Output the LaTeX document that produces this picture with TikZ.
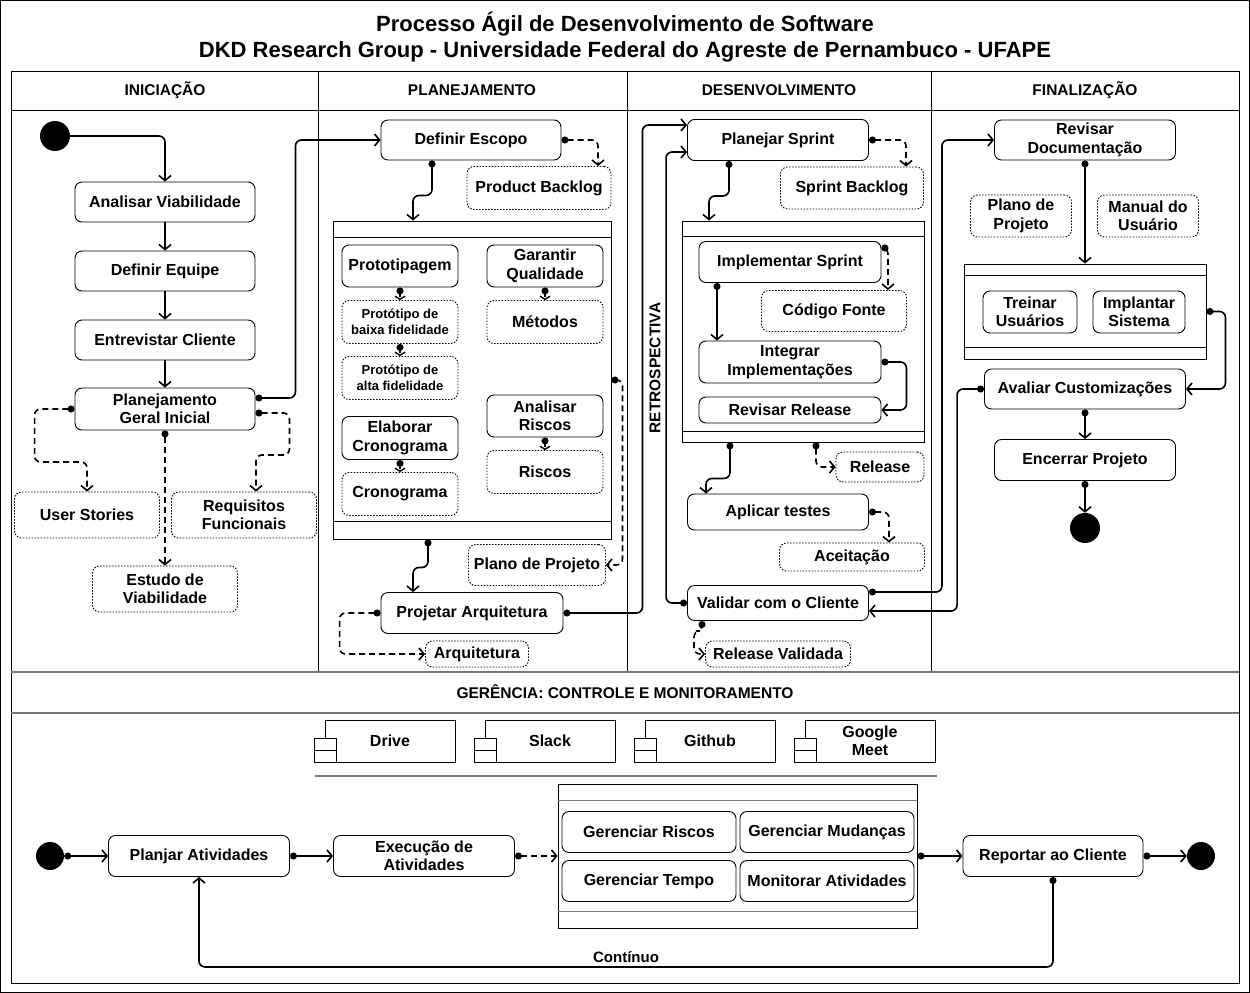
\documentclass[tikz,border=0pt]{standalone}
\usepackage{fontspec}
\setmainfont{Liberation Sans}
\usepackage{tikz}
\usetikzlibrary{arrows.meta,calc}
\definecolor{linhacinza}{RGB}{120,120,120}
\tikzset{
  act/.style={rectangle,rounded corners=7pt,draw,line width=0.9pt,fill=white,
              minimum width=180pt,minimum height=40pt,inner sep=2pt,align=center,
              font=\bfseries\fontsize{16}{18.5}\selectfont},
  artef/.style={act,dash pattern=on 1.5pt off 1.5pt},
  peq/.style={font=\bfseries\fontsize{13}{16}\selectfont},
  regiao/.style={rectangle,draw,line width=0.9pt,fill=white,inner sep=0pt},
  ferram/.style={rectangle,draw,line width=0.9pt,fill=white,minimum width=130pt,
              minimum height=42pt,inner sep=2pt,align=center,font=\bfseries\fontsize{16}{18.5}\selectfont},
  inicial/.style={circle,fill=black,minimum size=30pt,inner sep=0pt},
  cab/.style={font=\bfseries\fontsize{15.5}{18}\selectfont},
  fluxo/.style={{Circle[length=7pt]}-{Straight Barb[length=5pt,width=12pt]},line width=1.6pt,rounded corners=6pt},
  fluxoc/.style={fluxo,-{Straight Barb[length=5pt,width=12pt]}},
  fluxod/.style={fluxo,dash pattern=on 6pt off 4pt},
  curto/.style={{Circle[length=7pt]}-{Straight Barb[length=3pt,width=10pt]},line width=1.4pt,dash pattern=on 3pt off 2pt},
  divisa/.style={line width=0.9pt},
  cinza/.style={line width=1.6pt,draw=linhacinza},
}
\begin{document}
\begin{tikzpicture}[x=1pt,y=-1pt]
  \useasboundingbox (0,0) rectangle (1250,993);
  \draw[line width=1pt] (0.5,0.5) rectangle (1249.5,992.5);
  \node[font=\bfseries\fontsize{22}{26}\selectfont,align=center] (titulo) at (625,37)
    {Processo Ágil de Desenvolvimento de Software\\DKD Research Group - Universidade Federal do Agreste de Pernambuco - UFAPE};

  % raias
  \draw[divisa] (11,71) rectangle (1239,983);
  \draw[divisa] (11,110) -- (1239,110);
  \foreach \x in {318,627,931} \draw[divisa] (\x,71) -- (\x,672);
  \draw[cinza] (11,672) -- (1239,672);
  \draw[cinza] (11,713) -- (1239,713);
  \node[cab] (fase1) at (165,90) {INICIAÇÃO};
  \node[cab] (fase2) at (472,90) {PLANEJAMENTO};
  \node[cab] (fase3) at (779,90) {DESENVOLVIMENTO};
  \node[cab] (fase4) at (1085,90) {FINALIZAÇÃO};
  \node[cab] (gerencia) at (625,692) {GERÊNCIA: CONTROLE E MONITORAMENTO};

  % iniciacao
  \node[inicial] (inicio) at (55,136) {};
  \node[act] (analisar) at (165,202) {Analisar Viabilidade};
  \node[act] (equipe) at (165,271) {Definir Equipe};
  \node[act] (entrevistar) at (165,340) {Entrevistar Cliente};
  \node[act,minimum height=42pt] (pgi) at (165,409) {Planejamento\\Geral Inicial};
  \node[artef,minimum width=145pt,minimum height=46pt] (stories) at (87,515) {User Stories};
  \node[artef,minimum width=145pt,minimum height=46pt] (requisitos) at (244,515) {Requisitos\\Funcionais};
  \node[artef,minimum width=145pt,minimum height=46pt] (estudo) at (165,589) {Estudo de\\Viabilidade};

  % planejamento
  \node[act] (escopo) at (471,140) {Definir Escopo};
  \node[artef,minimum width=144pt,minimum height=43pt] (backlog) at (539,188) {Product Backlog};
  \node[regiao,minimum width=278pt,minimum height=318pt] (regPlan) at (472,380) {};
  \draw[divisa] ([yshift=-17pt]regPlan.north west) -- ([yshift=-17pt]regPlan.north east);
  \draw[divisa] ([yshift=18pt]regPlan.south west) -- ([yshift=18pt]regPlan.south east);
  \node[act,minimum width=116pt,minimum height=42pt] (proto) at (400,266) {Prototipagem};
  \node[artef,peq,minimum width=116pt,minimum height=43pt] (baixa) at (400,322) {Protótipo de\\baixa fidelidade};
  \node[artef,peq,minimum width=116pt,minimum height=43pt] (alta) at (400,378) {Protótipo de\\alta fidelidade};
  \node[act,minimum width=116pt,minimum height=42pt] (qualidade) at (545,266) {Garantir\\Qualidade};
  \node[artef,minimum width=116pt,minimum height=43pt] (metodos) at (545,322) {Métodos};
  \node[act,minimum width=116pt,minimum height=43pt] (elaborar) at (400,438) {Elaborar\\Cronograma};
  \node[artef,minimum width=116pt,minimum height=43pt] (cronograma) at (400,494) {Cronograma};
  \node[act,minimum width=116pt,minimum height=42pt] (analRiscos) at (545,416) {Analisar\\Riscos};
  \node[artef,minimum width=116pt,minimum height=43pt] (riscos) at (545,472) {Riscos};
  \node[artef,minimum width=137pt,minimum height=41pt] (planoproj) at (537,565) {Plano de Projeto};
  \node[act,minimum width=182pt,minimum height=41pt] (arquitet) at (472,613) {Projetar Arquitetura};
  \node[artef,minimum width=103pt,minimum height=26pt] (arquitetura) at (477,654) {Arquitetura};

  % desenvolvimento
  \node[act,minimum width=181pt,minimum height=41pt] (sprint) at (778,140) {Planejar Sprint};
  \node[artef,minimum width=143pt,minimum height=42pt] (sbacklog) at (852,188) {Sprint Backlog};
  \node[regiao,minimum width=242pt,minimum height=221pt] (regDev) at (803,331.5) {};
  \draw[divisa] ([yshift=-16pt]regDev.north west) -- ([yshift=-16pt]regDev.north east);
  \draw[divisa] ([yshift=11pt]regDev.south west) -- ([yshift=11pt]regDev.south east);
  \node[act,minimum width=182pt,minimum height=41pt] (implementar) at (790,262) {Implementar Sprint};
  \node[artef,minimum width=145pt,minimum height=41pt] (codigo) at (834,311) {Código Fonte};
  \node[act,minimum width=182pt,minimum height=42pt] (integrar) at (790,362) {Integrar\\Implementações};
  \node[act,minimum width=182pt,minimum height=26pt] (revisar) at (790,410) {Revisar Release};
  \node[artef,minimum width=88pt,minimum height=30pt] (release) at (880,467) {Release};
  \node[act,minimum width=181pt,minimum height=36pt] (testes) at (778,512) {Aplicar testes};
  \node[artef,minimum width=145pt,minimum height=28pt] (aceitacao) at (852,557) {Aceitação};
  \node[act,minimum width=181pt,minimum height=35pt] (validar) at (778,603) {Validar com o Cliente};
  \node[artef,minimum width=145pt,minimum height=26pt] (relval) at (778,654) {Release Validada};
  \node[cab,rotate=90] (retro) at (655,368) {RETROSPECTIVA};

  % finalizacao
  \node[act,minimum width=181pt,minimum height=40pt] (revdoc) at (1085,140) {Revisar\\Documentação};
  \node[artef,minimum width=101pt,minimum height=42pt] (plano2) at (1021,216) {Plano de\\Projeto};
  \node[artef,minimum width=101pt,minimum height=42pt] (manual) at (1148,216) {Manual do\\Usuário};
  \node[regiao,minimum width=242pt,minimum height=95pt] (regFin) at (1085,311.5) {};
  \draw[divisa] ([yshift=-12pt]regFin.north west) -- ([yshift=-12pt]regFin.north east);
  \draw[divisa] ([yshift=12pt]regFin.south west) -- ([yshift=12pt]regFin.south east);
  \node[act,minimum width=94pt,minimum height=42pt] (treinar) at (1030,312) {Treinar\\Usuários};
  \node[act,minimum width=92pt,minimum height=42pt] (implantar) at (1139,312) {Implantar\\Sistema};
  \node[act,minimum width=201pt,minimum height=40pt] (avaliar) at (1085,389) {Avaliar Customizações};
  \node[act,minimum width=181pt,minimum height=41pt] (encerrar) at (1085,460) {Encerrar Projeto};
  \node[inicial] (fim) at (1085,528) {};

  % gerencia
  \foreach \nome/\rotulo/\x in {drive/Drive/390,slack/Slack/550,github/Github/710,meet/{Google\\Meet}/870}{
    \node[ferram] (\nome) at (\x,741) {\rotulo};
    \draw[divisa,fill=white] ([xshift=-10pt,yshift=3pt]\nome.west) rectangle ++(22,12);
    \draw[divisa,fill=white] ([xshift=-10pt,yshift=-9pt]\nome.west) rectangle ++(22,12);
  }
  \draw[cinza] (315,776) -- (937,776);
  \node[inicial,minimum size=28pt] (inicio2) at (50,856) {};
  \node[act,minimum width=181pt,minimum height=41pt] (planjar) at (199,856) {Planjar Atividades};
  \node[act,minimum width=181pt,minimum height=41pt] (execucao) at (424,856) {Execução de\\Atividades};
  \node[regiao,minimum width=359pt,minimum height=144pt] (regGer) at (737.5,856) {};
  \draw[cinza,line width=1.2pt] ([yshift=-17pt]regGer.north west) -- ([yshift=-17pt]regGer.north east);
  \draw[cinza,line width=1.2pt] ([yshift=17pt]regGer.south west) -- ([yshift=17pt]regGer.south east);
  \node[act,minimum width=174pt,minimum height=41pt] (gRiscos) at (649,832) {Gerenciar Riscos};
  \node[act,minimum width=174pt,minimum height=41pt] (gMud) at (827,832) {Gerenciar Mudanças};
  \node[act,minimum width=174pt,minimum height=41pt] (gTempo) at (649,881) {Gerenciar Tempo};
  \node[act,minimum width=174pt,minimum height=41pt] (monitorar) at (827,881) {Monitorar Atividades};
  \node[act,minimum width=180pt,minimum height=41pt] (reportar) at (1053,856) {Reportar ao Cliente};
  \node[inicial,minimum size=28pt] (fim2) at (1201,856) {};

  % fluxos
  \draw[fluxoc] (inicio) -| (analisar);
  \draw[fluxoc] (analisar) -- (equipe);
  \draw[fluxoc] (equipe) -- (entrevistar);
  \draw[fluxoc] (entrevistar) -- (pgi);
  \draw[fluxo] ([yshift=11pt]pgi.east) -- ++(40,0) |- (escopo.west);
  \draw[fluxod] (pgi.west) -- ++(-40,0) -- ++(0,53) -| (stories.north);
  \draw[fluxod] ([yshift=-4pt]pgi.east) -- ++(34,0) -- ++(0,42) -| ([xshift=12pt]requisitos.north);
  \draw[fluxod] (pgi) -- (estudo);
  \draw[fluxod] (escopo.east) -| ([xshift=59pt]backlog.north);
  \draw[fluxo] ([xshift=-39pt]escopo.south) -- ++(0,35) -| ([xshift=-59pt]regPlan.north);
  \draw[curto] (proto) -- (baixa);
  \draw[curto] (baixa) -- (alta);
  \draw[curto] (qualidade) -- (metodos);
  \draw[curto] (elaborar) -- (cronograma);
  \draw[curto] (analRiscos) -- (riscos);
  \draw[fluxod] (regPlan.east) -- ++(11,0) |- (planoproj.east);
  \draw[fluxo] ([xshift=-44pt]regPlan.south) -- ++(0,28) -| ([xshift=-59pt]arquitet.north);
  \draw[fluxod] (arquitet.west) -- ++(-41,0) |- (arquitetura.west);
  \draw[fluxo] (arquitet.east) -- ++(79,0) |- ([yshift=15pt]sprint.west);
  \draw[fluxod] (sprint.east) -| ([xshift=54pt]sbacklog.north);
  \draw[fluxo] ([xshift=-49pt]sprint.south) -- ++(0,35) -| ([xshift=-94pt]regDev.north);
  \draw[fluxod] ([yshift=14pt]implementar.east) -| ([xshift=54pt]codigo.north);
  \draw[fluxo] ([xshift=-73pt]implementar.south) -- ([xshift=-73pt]integrar.north);
  \draw[fluxo] (integrar.east) -- ++(25,0) |- (revisar.east);
  \draw[fluxo] ([xshift=-73pt]regDev.south) -- ++(0,36) -| ([xshift=-72pt]testes.north);
  \draw[fluxod] ([xshift=13pt]regDev.south) |- (release.west);
  \draw[fluxod] (testes.east) -| ([xshift=37pt]aceitacao.north);
  \draw[fluxod] ([xshift=-76pt]validar.south) -- ++(0,10) -- ++(-8,0) |- (relval.west);
  \draw[fluxo] (validar.west) -- ++(-21,0) |- ([yshift=-12pt]sprint.west);
  \draw[fluxo] ([yshift=11pt]validar.east) -- ++(73,0) |- (revdoc.west);
  \draw[fluxo] (avaliar.west) -- ++(-27,0) |- ([yshift=-8pt]validar.east);
  \draw[fluxo] (revdoc) -- (regFin);
  \draw[fluxo] (regFin.east) -- ++(19,0) |- (avaliar.east);
  \draw[fluxo] (avaliar) -- (encerrar);
  \draw[fluxo] (encerrar) -- (fim);
  \draw[fluxo] (inicio2) -- (planjar);
  \draw[fluxo] (planjar) -- (execucao);
  \draw[fluxod] (execucao) -- (regGer);
  \draw[fluxo] (regGer) -- (reportar);
  \draw[fluxo] (reportar) -- (fim2);
  \draw[fluxo] (reportar.south) -- ++(0,90) -| node[pos=0.25,above,font=\bfseries\fontsize{15}{17}\selectfont] {Contínuo} (planjar.south);
\end{tikzpicture}
\end{document}
